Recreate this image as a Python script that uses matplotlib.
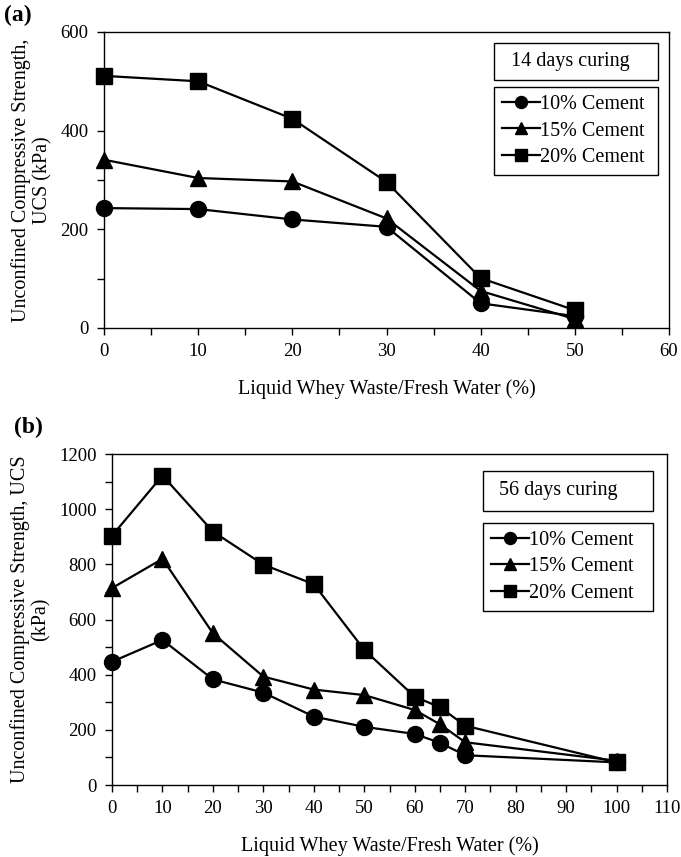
import matplotlib
matplotlib.use('Agg')
import matplotlib.pyplot as plt
from matplotlib.patches import Rectangle
from matplotlib.ticker import MultipleLocator

plt.rcParams['font.family'] = ['Liberation Serif', 'DejaVu Serif']

#---- data, panel (a) 14 days
x_a = [0, 10, 20, 30, 40, 50]
c10_a = [243, 241, 220, 205, 50, 24]
c15_a = [341, 304, 297, 222, 75, 18]
c20_a = [511, 500, 424, 296, 101, 36]

#---- data, panel (b) 56 days
x_b = [0, 10, 20, 30, 40, 50, 60, 65, 70, 100]
c10_b = [447, 526, 383, 335, 248, 211, 185, 153, 108, 82]
c15_b = [714, 820, 550, 393, 346, 326, 272, 220, 155, 88]
c20_b = [904, 1122, 919, 799, 728, 490, 320, 282, 215, 82]

labels = ['10% Cement', '15% Cement', '20% Cement']
markers = ['o', '^', 's']

fig = plt.figure(figsize=(6.81, 8.57), dpi=100)
ax1 = fig.add_axes([0.1527, 0.6173, 0.8297, 0.3454])
ax2 = fig.add_axes([0.1645, 0.0840, 0.8150, 0.3862])

def draw(ax, x, series, ms):
    for ys, lab, m in zip(series, labels, markers):
        ax.plot(x, ys, color='black', lw=1.6, marker=m, ms=ms, label=lab,
                clip_on=False, zorder=3)

draw(ax1, x_a, [c10_a, c15_a, c20_a], 11.5)
draw(ax2, x_b, [c10_b, c15_b, c20_b], 11.5)

ax1.set_xlim(0, 60)
ax1.set_ylim(0, 600)
ax1.xaxis.set_major_locator(MultipleLocator(10))
ax1.xaxis.set_minor_locator(MultipleLocator(5))
ax1.yaxis.set_major_locator(MultipleLocator(200))
ax1.yaxis.set_minor_locator(MultipleLocator(100))

ax2.set_xlim(0, 110)
ax2.set_ylim(0, 1200)
ax2.xaxis.set_major_locator(MultipleLocator(10))
ax2.xaxis.set_minor_locator(MultipleLocator(5))
ax2.yaxis.set_major_locator(MultipleLocator(200))
ax2.yaxis.set_minor_locator(MultipleLocator(100))

for ax in (ax1, ax2):
    ax.tick_params(which='both', direction='out', length=5, width=1, labelsize=13.5, pad=6)
    for sp in ax.spines.values():
        sp.set_linewidth(1.0)
    ax.set_xlabel('Liquid Whey Waste/Fresh Water (%)', fontsize=14.5, labelpad=14)

ax1.set_ylabel('Unconfined Compressive Strength,\nUCS (kPa)', fontsize=14.5,
               labelpad=6, linespacing=1.15)
ax2.set_ylabel('Unconfined Compressive Strength, UCS\n(kPa)', fontsize=14.5,
               labelpad=6, linespacing=1.15)

fig.text(0.006, 0.982, '(a)', fontsize=17, fontweight='bold', va='center')
fig.text(0.020, 0.501, '(b)', fontsize=17, fontweight='bold', va='center')

def boxes(ax, title, tbox, lbox):
    x0, y0, x1, y1 = tbox
    ax.add_patch(Rectangle((x0, y0), x1 - x0, y1 - y0, transform=ax.transAxes,
                           fill=False, edgecolor='black', lw=1.0, zorder=5))
    ax.text(x0 + 0.03, (y0 + y1) / 2, title, transform=ax.transAxes,
            fontsize=14.5, va='center', ha='left')
    lx0, ly0, lx1, ly1 = lbox
    leg = ax.legend(loc='center left', bbox_to_anchor=(lx0, ly0, lx1 - lx0, ly1 - ly0),
                    mode='expand', bbox_transform=ax.transAxes, borderaxespad=0,
                    fancybox=False, edgecolor='black', framealpha=1, fontsize=14.5,
                    handlelength=1.9, handletextpad=0.0, labelspacing=0.35,
                    borderpad=0.4, markerscale=0.75)
    leg.get_frame().set_linewidth(1.0)

boxes(ax1, '14 days curing', (0.690, 0.838, 0.981, 0.963), (0.690, 0.520, 0.981, 0.811))
boxes(ax2, '56 days curing', (0.668, 0.828, 0.975, 0.949), (0.668, 0.526, 0.975, 0.792))

fig.savefig('out.png', dpi=100)
